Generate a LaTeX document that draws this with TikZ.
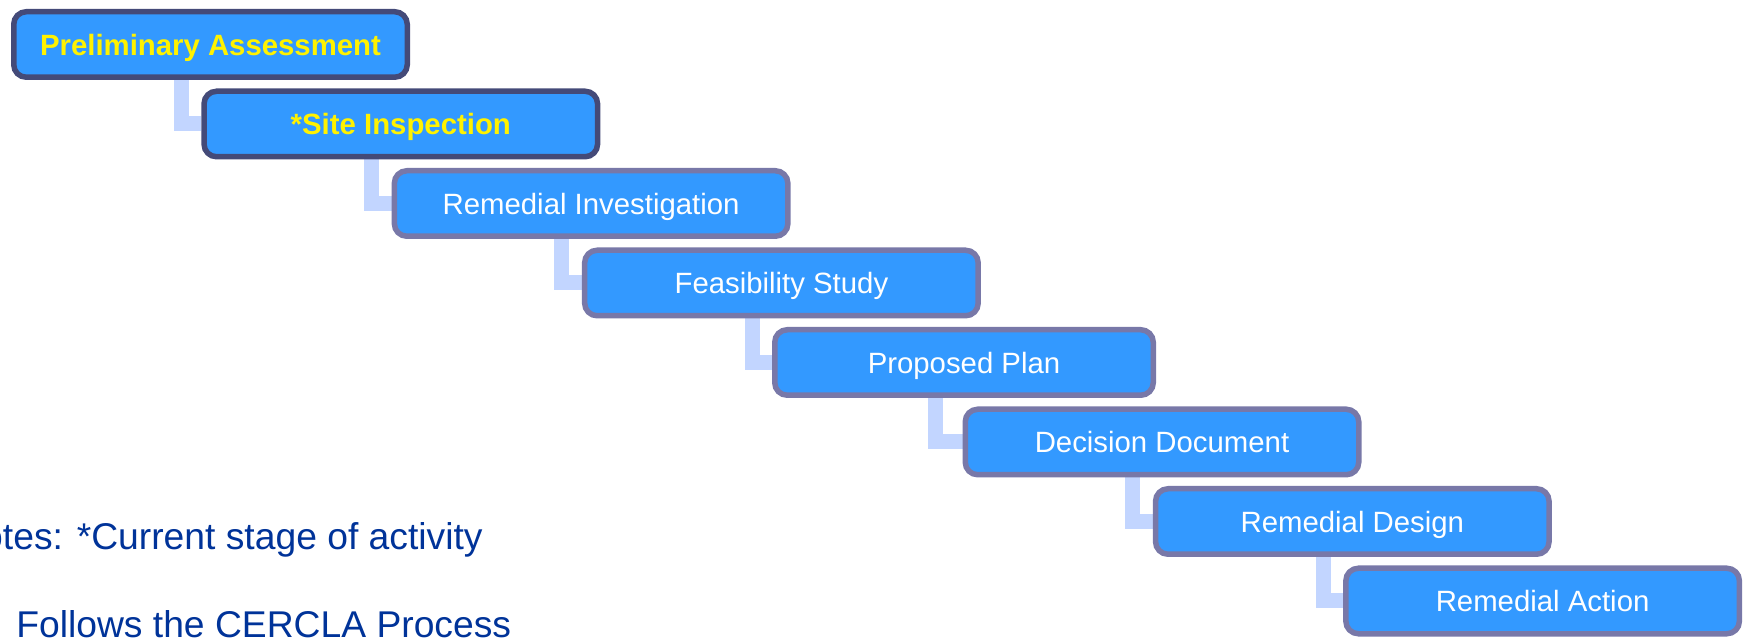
\documentclass[tikz,border=0pt]{standalone}
\usepackage{fontspec}
\setmainfont{Liberation Sans}
\usepackage{tikz}
\usetikzlibrary{positioning,calc,backgrounds}
\usepackage{xcolor}
\definecolor{boxblue}{HTML}{3399FF}
\definecolor{edgedark}{HTML}{444A78}
\definecolor{edgelight}{HTML}{7878A8}
\definecolor{linkblue}{HTML}{C2D5FF}
\definecolor{noteblue}{HTML}{003399}

\begin{document}
\begin{tikzpicture}[
  stagebox/.style={rectangle, draw=edgelight, line width=0.11cm, rounded corners=0.25cm, fill=boxblue, minimum width=7.87cm, minimum height=1.31cm, align=center, text=white, font=\fontsize{16.7}{20}\selectfont, text height=12pt, text depth=0pt},
  currentbox/.style={stagebox, draw=edgedark, text=yellow, font=\fontsize{16.7}{20}\selectfont\bfseries},
  link/.style={linkblue, line width=0.3cm, line join=miter},
  note/.style={anchor=base west, inner sep=0pt, text=noteblue, font=\fontsize{21.2}{25}\selectfont}
]
\useasboundingbox (0,0) rectangle (34.9,-12.8);
\clip (0,0) rectangle (34.9,-12.8);

% stages
\node[currentbox] (pa) at (4.21,-0.89) {Preliminary Assessment};
\node[currentbox] (si) at (8.016,-2.48) {*Site Inspection};
\node[stagebox] (ri) at (11.822,-4.07) {Remedial Investigation};
\node[stagebox] (fs) at (15.628,-5.66) {Feasibility Study};
\node[stagebox, minimum width=7.57cm] (pp) at (19.28,-7.25) {Proposed Plan};
\node[stagebox] (dd) at (23.24,-8.84) {Decision Document};
\node[stagebox] (rd) at (27.046,-10.43) {Remedial Design};
\node[stagebox] (ra) at (30.852,-12.02) {Remedial Action};

% connectors
\begin{scope}[on background layer]
\draw[link] ($(pa.south west)!0.427!(pa.south east)$) |- (si.west);
\draw[link] ($(si.south west)!0.427!(si.south east)$) |- (ri.west);
\draw[link] ($(ri.south west)!0.427!(ri.south east)$) |- (fs.west);
\draw[link] ($(fs.south west)!0.427!(fs.south east)$) |- (pp.west);
\draw[link] ($(pp.south west)!0.427!(pp.south east)$) |- (dd.west);
\draw[link] ($(dd.south west)!0.427!(dd.south east)$) |- (rd.west);
\draw[link] ($(rd.south west)!0.427!(rd.south east)$) |- (ra.west);
\end{scope}

% notes
\node[note] (notes) at (-0.9,-11.0) {Notes: *Current stage of activity};
\node[note] (cercla) at (0.32,-12.76) {Follows the CERCLA Process};

\end{tikzpicture}
\end{document}
